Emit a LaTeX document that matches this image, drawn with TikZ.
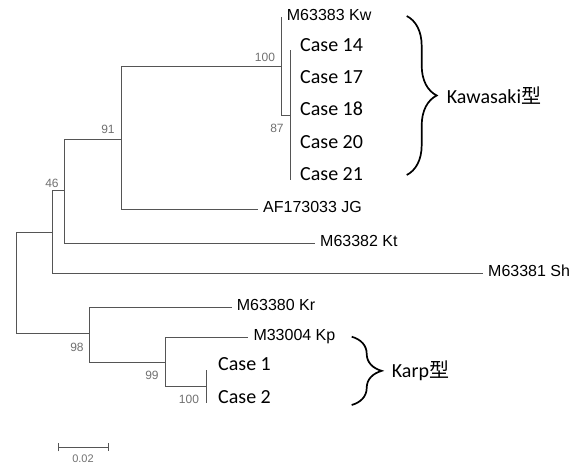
\documentclass[tikz,border=0pt]{standalone}
\usepackage{fontspec}
\setmainfont{Liberation Sans}
\newfontfamily\casefont{Carlito}
\newfontfamily\cjk{Noto Sans CJK JP}
\definecolor{branch}{HTML}{555555}
\definecolor{boot}{HTML}{707070}
\usepackage{tikz}
\usetikzlibrary{calc, positioning, arrows.meta, decorations.pathreplacing}

\begin{document}
\begin{tikzpicture}[x=1pt, y=-1pt,
  edge/.style={draw=branch, line width=0.9pt},
  leaf/.style={anchor=west, inner xsep=5pt, inner ysep=0pt, font=\fontsize{16}{16}\selectfont, text height=0.72em, text depth=0pt},
  caselbl/.style={anchor=west, inner sep=0pt, font=\casefont\fontsize{20}{20}\selectfont, text height=0.64em, text depth=0pt},
  boot/.style={text=boot, inner sep=0pt, font=\fontsize{12}{12}\selectfont},
  grouplbl/.style={anchor=west, inner sep=0pt, font=\casefont\fontsize{20}{20}\selectfont},
  clade/.style={decorate, decoration={brace, amplitude=30pt}, line width=1.7pt}]
  \useasboundingbox (0,0) rectangle (582,467);

  % internal nodes
  \coordinate (root) at (16,282);
  \coordinate (nA) at (52.7,232);
  \coordinate (nC) at (64,190.7);
  \coordinate (n91) at (121.7,139);
  \coordinate (n100) at (281.7,66);
  \coordinate (n87) at (290,115);
  \coordinate (n87top) at (290,50);
  \coordinate (n87bot) at (290,180);
  \coordinate (nB) at (89.3,333);
  \coordinate (n99) at (165.7,362.3);
  \coordinate (nK) at (206.7,386);
  \coordinate (nKtop) at (206.7,370);
  \coordinate (nKbot) at (206.7,402.7);

  % leaves
  \node[leaf] (kw) at (281.7,17) {M63383 Kw};
  \node[leaf] (jg) at (258,209) {AF173033 JG};
  \node[leaf] (kt) at (315,243) {M63382 Kt};
  \node[leaf] (sh) at (483,273) {M63381 Sh};
  \node[leaf] (kr) at (231.7,307) {M63380 Kr};
  \node[leaf] (kp) at (248.3,337) {M33004 Kp};
  \node[caselbl] (c14) at (300,48) {Case 14};
  \node[caselbl] (c17) at (300,80.3) {Case 17};
  \node[caselbl] (c18) at (300,112.5) {Case 18};
  \node[caselbl] (c20) at (300,144.8) {Case 20};
  \node[caselbl] (c21) at (300,177) {Case 21};
  \node[caselbl] (c1) at (218,367) {Case 1};
  \node[caselbl] (c2) at (218,400) {Case 2};

  % branches
  \draw[edge] (root) |- (nA);
  \draw[edge] (root) |- (nB);
  \draw[edge] (nA) |- (nC);
  \draw[edge] (nA) |- (sh.west);
  \draw[edge] (nC) |- (n91);
  \draw[edge] (nC) |- (kt.west);
  \draw[edge] (n91) |- (n100);
  \draw[edge] (n91) |- (jg.west);
  \draw[edge] (n100) |- (kw.west);
  \draw[edge] (n100) |- (n87);
  \draw[edge] (n87top) -- (n87bot);
  \draw[edge] (nB) |- (kr.west);
  \draw[edge] (nB) |- (n99);
  \draw[edge] (n99) |- (kp.west);
  \draw[edge] (n99) |- (nK);
  \draw[edge] (nKtop) -- (nKbot);

  % bootstrap values
  \node[boot] (b100a) at (265,57) {100};
  \node[boot] (b87) at (277,128) {87};
  \node[boot] (b91) at (108,129) {91};
  \node[boot] (b46) at (52,183) {46};
  \node[boot] (b98) at (77,347) {98};
  \node[boot] (b99) at (152,375) {99};
  \node[boot] (b100b) at (189,399) {100};

  % groups
  \coordinate (kwtop) at (406.7,16);
  \coordinate (kwbot) at (406.7,175);
  \draw[clade] (kwtop) -- (kwbot);
  \node[grouplbl] (kawasaki) at (446.7,96) {Kawasaki{\cjk 型}};
  \coordinate (kptop) at (351.7,336.7);
  \coordinate (kpbot) at (351.7,405);
  \draw[clade] (kptop) -- (kpbot);
  \node[grouplbl] (karp) at (391.7,371) {Karp{\cjk 型}};

  % scale bar
  \coordinate (sbl) at (58.3,447.3);
  \coordinate (sbr) at (109.3,447.3);
  \draw[edge, {Bar[width=8pt]}-{Bar[width=8pt]}] (sbl) -- (sbr);
  \node[boot, font=\fontsize{11}{11}\selectfont] (sblbl) at (83,459) {0.02};
\end{tikzpicture}
\end{document}
